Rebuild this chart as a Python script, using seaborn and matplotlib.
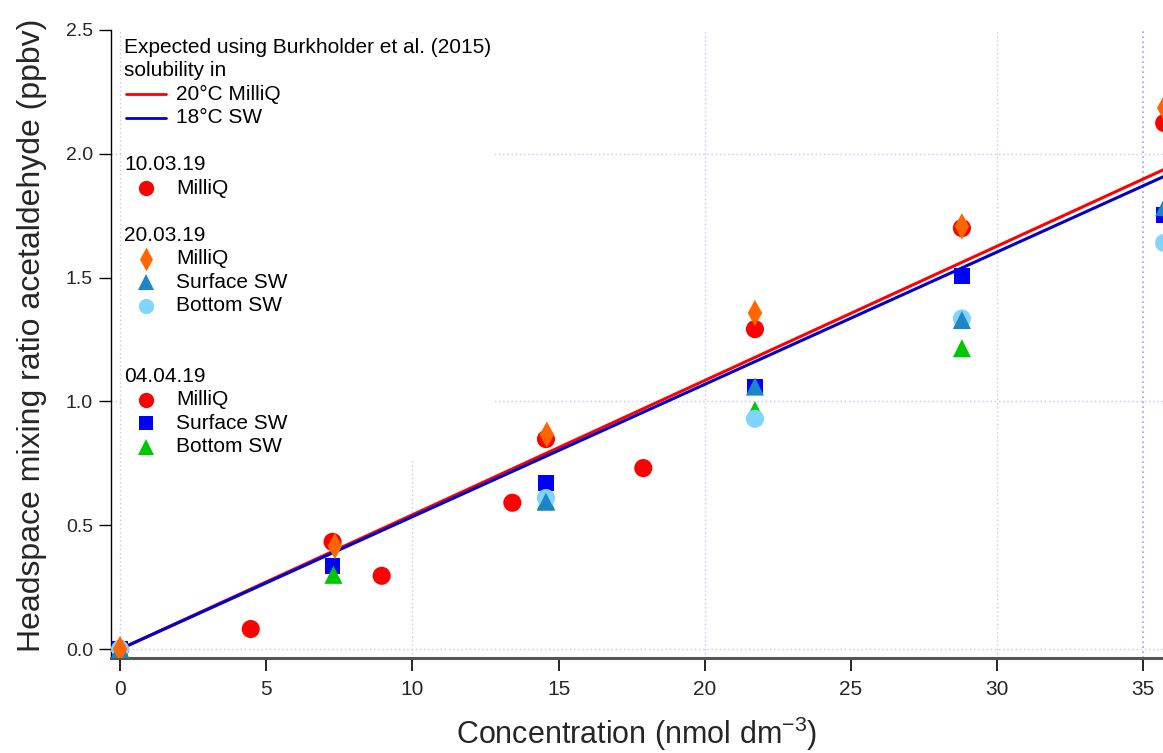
import numpy as np
import pandas as pd
import seaborn as sns
import matplotlib
matplotlib.use("Agg")
import matplotlib.pyplot as plt
from matplotlib.lines import Line2D
from matplotlib.path import Path
from matplotlib.offsetbox import TextArea, DrawingArea, HPacker, VPacker, AnchoredOffsetbox
from matplotlib.ticker import FixedLocator

# ---------------- data ----------------
line_x = [0.0, 35.7]
expected_milliq_20C = [0.0, 1.936]
expected_sw_18C = [0.0, 1.908]

d100319_x = [0.0, 4.47, 8.95, 13.42, 17.9]
d100319_milliq = [0.0, 0.081, 0.296, 0.591, 0.731]

d200319_milliq_x = [0.0, 7.35, 14.6, 21.72, 28.8, 35.72]
d200319_milliq = [0.0, 0.416, 0.866, 1.357, 1.707, 2.185]
d200319_sw_x = [0.0, 14.57, 21.72, 28.8, 35.72]
d200319_surface = [0.0, 0.595, 1.060, 1.329, 1.785]
d200319_bottom = [0.0, 0.610, 0.930, 1.335, 1.640]

d040419_x = [0.0, 7.27, 14.57, 21.72, 28.8, 35.72]
d040419_milliq = [0.0, 0.433, 0.848, 1.292, 1.700, 2.124]
d040419_surface = [0.0, 0.335, 0.672, 1.058, 1.506, 1.753]
d040419_bottom_x = [0.0, 7.3, 14.57, 21.72, 28.8]
d040419_bottom = [0.0, 0.300, 0.600, 0.965, 1.215]

x_ticks = [0, 5, 10, 15, 20, 25, 30, 35]
y_ticks = [0.0, 0.5, 1.0, 1.5, 2.0, 2.5]
x_grid = [0, 10, 20, 30]
y_grid = [0, 1, 2]

# ---------------- style ----------------
sns.set_theme(style="white")
plt.rcParams["font.family"] = ["Liberation Sans", "DejaVu Sans"]

W, H = 1163, 753
fig = plt.figure(figsize=(W / 100, H / 100), dpi=100)
ax = fig.add_axes([111 / W, 1 - 658 / H, 1052 / W, 628 / H])

RED = "#ff0000"
ORANGE = "#ff6600"
STEEL = "#1b87c8"
LIGHT = "#80d4ff"
BLUE = "#0000ff"
GREEN = "#00c800"
LINE_BLUE = "#0000cc"

THIN_DIAMOND = Path([(0, 1), (0.55, 0), (0, -1), (-0.55, 0), (0, 1)],
                    [Path.MOVETO, Path.LINETO, Path.LINETO, Path.LINETO, Path.CLOSEPOLY])

ax.set_xlim(-0.31, 35.68)
ax.set_ylim(-0.036, 2.5)

# expected lines
sns.lineplot(x=line_x, y=expected_milliq_20C, color=RED, lw=2.2, ax=ax, zorder=2)
sns.lineplot(x=line_x, y=expected_sw_18C, color=LINE_BLUE, lw=2.2, ax=ax, zorder=2)

def sc(x, y, marker, color, s, z):
    sns.scatterplot(x=x, y=y, marker=marker, color=color, s=s, linewidth=0,
                    edgecolor="none", ax=ax, zorder=z, legend=False)

sc(d100319_x, d100319_milliq, "o", RED, 170, 3)
sc(d040419_x, d040419_milliq, "o", RED, 170, 3)
sc(d040419_x, d040419_surface, "s", BLUE, 130, 3.1)
sc(d040419_bottom_x, d040419_bottom, "^", GREEN, 170, 3.2)
sc(d200319_sw_x, d200319_bottom, "o", LIGHT, 170, 3.3)
sc(d200319_sw_x, d200319_surface, "^", STEEL, 170, 3.4)
sc(d200319_milliq_x, d200319_milliq, THIN_DIAMOND, ORANGE, 360, 3.5)

# grid
ax.xaxis.remove_overlapping_locs = False
ax.yaxis.remove_overlapping_locs = False
ax.xaxis.set_minor_locator(FixedLocator(x_grid))
ax.yaxis.set_minor_locator(FixedLocator(y_grid))
ax.grid(False)
ax.grid(True, which="minor", axis="both", color="#c4c4ff", ls=(0, (1, 2)), lw=1)
ax.axvline(35, color="#9a9aff", ls=(0, (1, 2)), lw=1.2, zorder=1)
ax.set_axisbelow(True)
ax.tick_params(which="minor", length=0)

ax.set_xticks(x_ticks)
ax.set_yticks(y_ticks)
ax.set_xticklabels([str(v) for v in x_ticks], fontsize=15)
ax.set_yticklabels([f"{v:.1f}" for v in y_ticks], fontsize=14)
ax.tick_params(axis="x", which="major", direction="out", length=9, width=1.2,
               color="black", pad=7, bottom=True)
ax.tick_params(axis="y", which="major", direction="out", length=9, width=1,
               color="black", pad=4, left=True)

for s in ["top", "right"]:
    ax.spines[s].set_visible(False)
ax.spines["left"].set_color("black")
ax.spines["left"].set_linewidth(1)
ax.spines["bottom"].set_color("#555555")
ax.spines["bottom"].set_linewidth(2.2)

ax.set_ylabel("Headspace mixing ratio acetaldehyde (ppbv)", fontsize=23)
ax.yaxis.set_label_coords(-0.061, 0.514)
ax.set_xlabel(r"Concentration (nmol dm$\mathregular{^{-3}}$)", fontsize=22, labelpad=11)

# ---------------- legend (built from offset boxes) ----------------
PT = 72 / 100
ROW_H = 23.5 * PT
HW = 42 * PT
FS = 15

def title_row(text):
    return HPacker(children=[DrawingArea(0, ROW_H),
                             TextArea(text, textprops=dict(fontsize=FS, color="black"))],
                   sep=0, align="center", pad=0)

def blank_row():
    return DrawingArea(1, ROW_H)

def line_row(text, color):
    da = DrawingArea(HW, ROW_H)
    da.add_artist(Line2D([2 * PT, 42 * PT], [ROW_H / 2, ROW_H / 2], color=color, lw=2))
    return HPacker(children=[da, TextArea(text, textprops=dict(fontsize=FS, color="black"))],
                   sep=10 * PT, align="center", pad=0)

def marker_row(text, marker, color, ms):
    da = DrawingArea(HW, ROW_H)
    da.add_artist(Line2D([22 * PT], [ROW_H / 2], ls="none", marker=marker, ms=ms,
                         color=color, mew=0))
    return HPacker(children=[da, TextArea(text, textprops=dict(fontsize=FS, color="black"))],
                   sep=10 * PT, align="center", pad=0)

rows = [
    title_row("Expected using Burkholder et al. (2015)"),
    title_row("solubility in"),
    line_row("20°C MilliQ", RED),
    line_row("18°C SW", LINE_BLUE),
    blank_row(),
    title_row("10.03.19"),
    marker_row("MilliQ", "o", RED, 11),
    blank_row(),
    title_row("20.03.19"),
    marker_row("MilliQ", THIN_DIAMOND, ORANGE, 17),
    marker_row("Surface SW", "^", STEEL, 12),
    marker_row("Bottom SW", "o", LIGHT, 11),
    blank_row(),
    blank_row(),
    title_row("04.04.19"),
    marker_row("MilliQ", "o", RED, 11),
    marker_row("Surface SW", "s", BLUE, 10),
    marker_row("Bottom SW", "^", GREEN, 12),
]
vp = VPacker(children=rows, sep=0, align="left", pad=0)
box = AnchoredOffsetbox(loc="upper left", child=vp, pad=0.15, borderpad=0,
                        frameon=True, bbox_to_anchor=(11 / 1052, 1 - 3 / 628),
                        bbox_transform=ax.transAxes)
box.patch.set_facecolor("white")
box.patch.set_edgecolor("none")
box.set_zorder(5)
ax.add_artist(box)

fig.savefig("out.png", dpi=100)
